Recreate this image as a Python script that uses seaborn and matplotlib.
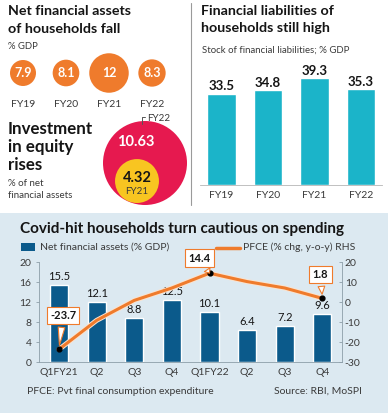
import numpy as np
import matplotlib
matplotlib.use("Agg")
import matplotlib.pyplot as plt
import matplotlib.patheffects as pe
from matplotlib.patches import Rectangle, Circle
from matplotlib.lines import Line2D
import seaborn as sns

# data
nfa_years = ["FY19", "FY20", "FY21", "FY22"]
nfa_values = [7.9, 8.1, 12, 8.3]

equity_labels = ["FY22", "FY21"]
equity_values = [10.63, 4.32]

liab_years = ["FY19", "FY20", "FY21", "FY22"]
liab_values = [33.5, 34.8, 39.3, 35.3]

quarters = ["Q1FY21", "Q2FY21", "Q3FY21", "Q4FY21", "Q1FY22", "Q2FY22", "Q3FY22", "Q4FY22"]
quarter_ticks = ["Q1FY21", "Q2", "Q3", "Q4", "Q1FY22", "Q2", "Q3", "Q4"]
nfa_quarterly = [15.5, 12.1, 8.8, 12.5, 10.1, 6.4, 7.2, 9.6]
pfce_growth = [-23.7, -9.2, 0.8, 7.0, 14.4, 10.2, 7.0, 1.8]
pfce_labelled = [0, 4, 7]

ORANGE = "#ef7b2c"
CRIMSON = "#e6194f"
YELLOW = "#f8c521"
TEAL = "#1bb4c9"
NAVY = "#0b5a8b"
BG = "#dce9f1"
DARK = "#151515"
GREY_TXT = "#3a3a3a"

sns.set_theme(style="white")
plt.rcParams["font.family"] = ["Lato", "DejaVu Sans"]
plt.rcParams["axes.unicode_minus"] = False

W, H = 388, 413
fig = plt.figure(figsize=(W / 100, H / 100), dpi=100)
fig.patch.set_facecolor("white")


def box(x0, y0, x1, y1):
    return [x0 / W, 1 - y1 / H, (x1 - x0) / W, (y1 - y0) / H]


def ftext(x, y, s, **kw):
    kw.setdefault("va", "baseline")
    return fig.text(x / W, 1 - y / H, s, **kw)


# bottom panel background + separator
fig.patches.append(Rectangle((0, 0), 1, (H - 213) / H, transform=fig.transFigure,
                             facecolor=BG, edgecolor="none", zorder=-1))
fig.lines.append(Line2D([191 / W, 191 / W], [1 - 3 / H, 1 - 205 / H],
                        transform=fig.transFigure, color="#9a9a9a", lw=0.8))

# ---------- top left: net financial assets circles ----------
ftext(8, 15, "Net financial assets", fontsize=10.3, fontweight="bold", color=DARK)
ftext(8, 33, "of households fall", fontsize=10.3, fontweight="bold", color=DARK)
ftext(8, 49, "% GDP", fontsize=6.8, color=GREY_TXT)

ax_c = fig.add_axes(box(0, 50, 190, 96))
ax_c.set_xlim(-23 / 43, (190 - 23) / 43)
ax_c.set_ylim(-1, 1)
px_per_unit = 13 / 7.9
for i, v in enumerate(nfa_values):
    d_pt = 2 * px_per_unit * v * 0.72
    ax_c.scatter(i, 0, s=d_pt ** 2, color=ORANGE, edgecolor="none", clip_on=False)
    ax_c.text(i, 0, f"{v:g}", ha="center", va="center", color="white",
              fontsize=9, fontweight="bold")
ax_c.set_xticks(range(len(nfa_years)), nfa_years)
ax_c.tick_params(axis="x", length=0, pad=3, labelsize=7.5, labelcolor=GREY_TXT)
ax_c.set_yticks([])
for s in ax_c.spines.values():
    s.set_visible(False)
ax_c.patch.set_visible(False)

# ---------- equity circles ----------
ftext(8, 134, "Investment", fontsize=12.2, fontweight="bold", color=DARK)
ftext(8, 152, "in equity", fontsize=12.2, fontweight="bold", color=DARK)
ftext(8, 170, "rises", fontsize=12.2, fontweight="bold", color=DARK)
ftext(8, 186, "% of net", fontsize=7, color=GREY_TXT)
ftext(8, 198, "financial assets", fontsize=7, color=GREY_TXT)

ax_e = fig.add_axes(box(95, 110, 195, 210))
ax_e.set_xlim(95, 195)
ax_e.set_ylim(210, 110)
ax_e.axis("off")
r_big = 42.0
radii = [r_big * (v / equity_values[0]) ** 0.72 for v in equity_values]
big_c = (145, 205 - radii[0])
small_c = (137, 203 - radii[1])
ax_e.add_patch(Circle(big_c, radii[0], facecolor=CRIMSON, edgecolor="none", clip_on=False))
ax_e.add_patch(Circle(small_c, radii[1], facecolor=YELLOW, edgecolor="none", clip_on=False))
top_y = big_c[1] - radii[0]
ax_e.text(136, top_y + 25, f"{equity_values[0]:.2f}", ha="center",
          va="baseline", color="white", fontsize=10.5, fontweight="bold")
ax_e.text(small_c[0], small_c[1] + 1, f"{equity_values[1]:.2f}", ha="center",
          va="baseline", color=DARK, fontsize=10.5, fontweight="bold")
ax_e.text(small_c[0], small_c[1] + 13, equity_labels[1], ha="center",
          va="baseline", color=GREY_TXT, fontsize=7)
ax_e.plot([142, 142, 145], [top_y + 3, top_y - 4, top_y - 4], color="#555", lw=0.7, clip_on=False)
ax_e.text(147, top_y, equity_labels[0], ha="left", va="baseline",
          color=GREY_TXT, fontsize=7)

# ---------- top right: liabilities bars ----------
ftext(201, 15, "Financial liabilities of", fontsize=10.3, fontweight="bold", color=DARK)
ftext(201, 32, "households still high", fontsize=10.3, fontweight="bold", color=DARK)
ftext(202, 53, "Stock of financial liabilities; % GDP", fontsize=6.9, color=GREY_TXT)

ax_r = fig.add_axes(box(200, 60, 382, 185))
sns.barplot(x=liab_years, y=liab_values, color=TEAL, width=0.62, saturation=1, ax=ax_r)
ax_r.set_xlim(-0.46, 3.45)
ax_r.set_ylim(0, 125 / 2.72)
ax_r.bar_label(ax_r.containers[0], fmt="%.1f", padding=1, fontsize=9.5,
               fontweight="bold", color=DARK)
ax_r.set_yticks([])
ax_r.set_xlabel("")
ax_r.set_ylabel("")
ax_r.tick_params(axis="x", length=0, pad=4, labelsize=7.5, labelcolor=GREY_TXT)
for k in ["top", "right", "left"]:
    ax_r.spines[k].set_visible(False)
ax_r.spines["bottom"].set_color("#b5b5b5")
ax_r.spines["bottom"].set_linewidth(0.6)
ax_r.patch.set_visible(False)

# ---------- bottom: covid panel ----------
ftext(20, 233, "Covid-hit households turn cautious on spending", fontsize=11,
      fontweight="bold", color=DARK)
fig.patches.append(Rectangle((21 / W, 1 - 251 / H), 14 / W, 8 / H, transform=fig.transFigure,
                             facecolor=NAVY, edgecolor="none"))
ftext(40, 250, "Net financial assets (% GDP)", fontsize=7.5, color=GREY_TXT)
fig.lines.append(Line2D([216 / W, 240 / W], [1 - 247.5 / H, 1 - 247.5 / H],
                        transform=fig.transFigure, color=ORANGE, lw=2.5))
ftext(243, 250, "PFCE (% chg, y-o-y) RHS", fontsize=7.5, color=GREY_TXT)

ax = fig.add_axes(box(39, 262, 342, 362))
sns.barplot(x=quarters, y=nfa_quarterly, color=NAVY, width=0.48, saturation=1, ax=ax)
ax.set_xlim(-0.53, 7.52)
ax.set_ylim(0, 20)
ax.set_yticks(range(0, 21, 4))
ax.set_xticks(range(len(quarters)), quarter_ticks)
ax.set_xlabel("")
ax.set_ylabel("")
ax.bar_label(ax.containers[0], fmt="%.1f", padding=2, fontsize=8, color=DARK)
ax.tick_params(axis="x", length=0, pad=4, labelsize=7.5, labelcolor=GREY_TXT)
ax.tick_params(axis="y", length=2.5, width=0.6, color="#8d9ea9", direction="out",
               pad=3, labelsize=7.5, labelcolor=GREY_TXT)
ax.patch.set_visible(False)
for k in ["top", "right"]:
    ax.spines[k].set_visible(False)
for k in ["left", "bottom"]:
    ax.spines[k].set_color("#8d9ea9")
    ax.spines[k].set_linewidth(0.6)

ax2 = ax.twinx()
xpos = np.arange(len(quarters))
sns.lineplot(x=xpos, y=pfce_growth, ax=ax2, color=ORANGE, lw=2.2,
             path_effects=[pe.Stroke(linewidth=3.6, foreground="#fbe3cf"), pe.Normal()])
ax2.scatter(xpos[pfce_labelled], np.array(pfce_growth)[pfce_labelled], s=12,
            color="black", zorder=5, clip_on=False)
ax2.set_xlim(-0.53, 7.52)
ax2.set_ylim(-30, 20)
ax2.set_yticks(range(-30, 21, 10))
ax2.set_ylabel("")
ax2.tick_params(axis="y", length=2.5, width=0.6, color="#8d9ea9", direction="in",
                pad=2, labelsize=7.5, labelcolor=GREY_TXT)
for k in ["top", "left", "bottom"]:
    ax2.spines[k].set_visible(False)
ax2.spines["right"].set_color("#8d9ea9")
ax2.spines["right"].set_linewidth(0.6)

offsets = {0: (4, 34), 4: (-10, 15), 7: (-2, 24)}
for i in pfce_labelled:
    ax2.annotate(f"{pfce_growth[i]:.1f}", xy=(i, pfce_growth[i]), xytext=offsets[i],
                 textcoords="offset pixels", ha="center", va="center",
                 fontsize=8, fontweight="bold", color=DARK, zorder=6,
                 bbox=dict(boxstyle="square,pad=0.3", fc="white", ec=ORANGE, lw=0.8),
                 arrowprops=dict(arrowstyle="wedge,tail_width=0.6,shrink_factor=0.5",
                                 fc="white", ec=ORANGE, lw=0.8, shrinkB=3))

ftext(27, 394, "PFCE: Pvt final consumption expenditure", fontsize=7.5, color=GREY_TXT)
ftext(362, 394, "Source: RBI, MoSPI", fontsize=7.5, color=GREY_TXT, ha="right")

fig.savefig("out.png", dpi=100)
